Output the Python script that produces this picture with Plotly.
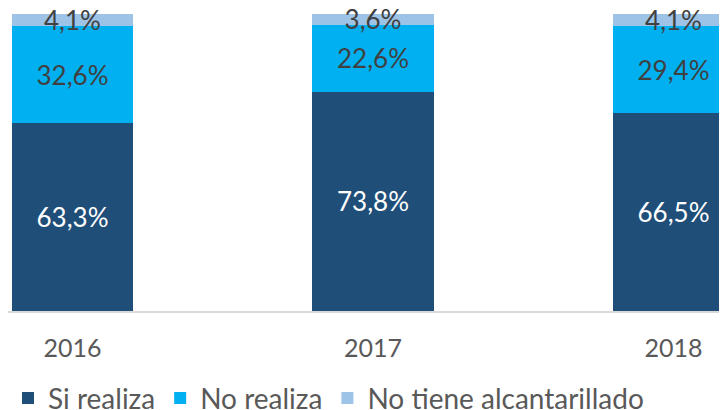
import plotly.graph_objects as go

years = ["2016", "2017", "2018"]
si_realiza = [63.3, 73.8, 66.5]
no_realiza = [32.6, 22.6, 29.4]
no_tiene = [4.1, 3.6, 4.1]

series = [
    ("Si realiza", si_realiza, "#1F4E79", "#FFFFFF"),
    ("No realiza", no_realiza, "#00B0F0", "#404040"),
    ("No tiene alcantarillado", no_tiene, "#9DC3E6", "#404040"),
]

FONT = "Lato"
fig = go.Figure()
for name, vals, color, tcolor in series:
    fig.add_trace(go.Bar(
        x=years, y=vals, name=name,
        marker=dict(color=color, line=dict(width=0)),
        text=[f"{v:.1f}%".replace(".", ",") for v in vals],
        textposition="inside", insidetextanchor="middle",
        constraintext="none", cliponaxis=False,
        textfont=dict(family=FONT, size=26, color=tcolor),
        hoverinfo="skip",
    ))

# page body has an 8px margin; figure is sized to fill the rest of the window
fig.update_layout(
    barmode="stack",
    width=719, height=402,
    margin=dict(l=0, r=0, t=6, b=99, pad=0, autoexpand=False),
    paper_bgcolor="white", plot_bgcolor="white",
    bargap=0.597,
    showlegend=True,
    legend=dict(orientation="h", x=0.0, xanchor="left", y=-0.21, yanchor="top",
                font=dict(family=FONT, size=28, color="#595959"),
                itemwidth=30, traceorder="normal"),
    xaxis=dict(type="category", range=[-0.2146, 2.178], showgrid=False,
               showline=True, linecolor="#D9D9D9", linewidth=1.5,
               ticks="", tickfont=dict(family=FONT, size=25, color="#595959"),
               ticklabelstandoff=14),
    yaxis=dict(range=[0, 100], visible=False),
    uniformtext=dict(minsize=26, mode="show"),
)

fig.write_html("out.html")
